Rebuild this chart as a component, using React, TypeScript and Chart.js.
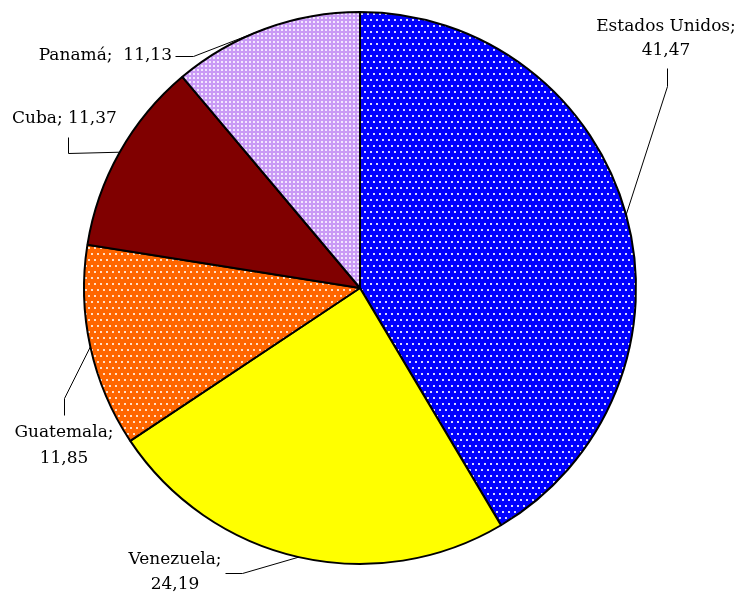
import React, { useEffect, useRef } from "react";
import { Chart, registerables } from "chart.js";

Chart.register(...registerables);

const categories = ["Estados Unidos", "Venezuela", "Guatemala", "Cuba", "Panamá"];
const values = [41.47, 24.19, 11.85, 11.37, 11.13];

const fmt = (v: number) => v.toFixed(2).replace(".", ",");

function makePattern(base: string, dot: string, period: number, size: number, stagger: boolean) {
  const c = document.createElement("canvas");
  c.width = period;
  c.height = stagger ? period * 2 : period;
  const ctx = c.getContext("2d")!;
  ctx.fillStyle = base;
  ctx.fillRect(0, 0, c.width, c.height);
  ctx.fillStyle = dot;
  ctx.fillRect(1, 1, size, size);
  if (stagger) {
    ctx.fillRect(1 + period / 2, 1 + period, size, size);
  }
  return ctx.createPattern(c, "repeat")!;
}

// label layout: lines, text anchor, alignment, leader polyline start points
const labelLayout = [
  { lines: (n: string, v: string) => [n + ";", v], x: 666, y: [27, 51], align: "center", leader: [[667, 68], [667, 86]] },
  { lines: (n: string, v: string) => [n + ";", v], x: 175, y: [560, 585], align: "center", leader: [[225, 573], [242, 573]] },
  { lines: (n: string, v: string) => [n + ";", v], x: 64, y: [433, 459], align: "center", leader: [[64, 415], [64, 398]] },
  { lines: (n: string, v: string) => [n + "; " + v], x: 12, y: [119], align: "left", leader: [[68, 137], [68, 153]] },
  { lines: (n: string, v: string) => [n + ";  " + v], x: 172, y: [56], align: "right", leader: [[175, 56], [193, 56]] },
];

const labelsPlugin = {
  id: "pieLabels",
  afterDraw(chart: any) {
    const ctx = chart.ctx;
    const meta = chart.getDatasetMeta(0);
    ctx.save();
    ctx.font = "17px 'DejaVu Serif', serif";
    ctx.fillStyle = "#000";
    ctx.textBaseline = "middle";
    meta.data.forEach((arc: any, i: number) => {
      const L = labelLayout[i];
      const lines = L.lines(categories[i], fmt(values[i]));
      ctx.textAlign = L.align;
      lines.forEach((t: string, j: number) => ctx.fillText(t, L.x, L.y[j]));
      const mid = (arc.startAngle + arc.endAngle) / 2;
      const ex = arc.x + Math.cos(mid) * arc.outerRadius;
      const ey = arc.y + Math.sin(mid) * arc.outerRadius;
      ctx.beginPath();
      ctx.strokeStyle = "#000";
      ctx.lineWidth = 1;
      ctx.moveTo(L.leader[0][0] + 0.5, L.leader[0][1] + 0.5);
      ctx.lineTo(L.leader[1][0] + 0.5, L.leader[1][1] + 0.5);
      ctx.lineTo(ex, ey);
      ctx.stroke();
    });
    ctx.restore();
  },
};

export default function App() {
  const ref = useRef<HTMLCanvasElement>(null);
  useEffect(() => {
    document.body.style.margin = "0";
    const fills = [
      makePattern("#0000ff", "#d8d8ff", 6, 2, true),
      "#ffff00",
      makePattern("#ff6600", "#ffe0c8", 6, 2, true),
      "#800000",
      makePattern("#c99af5", "#f3e6ff", 4, 2, false),
    ];
    const chart = new Chart(ref.current!, {
      type: "pie",
      data: {
        labels: categories,
        datasets: [
          {
            data: values,
            backgroundColor: fills as any,
            borderColor: "#000",
            borderWidth: 2,
            hoverOffset: 0,
          },
        ],
      },
      options: {
        responsive: false,
        animation: false,
        layout: { padding: { left: 83, right: 103, top: 11, bottom: 30 } },
        plugins: { legend: { display: false }, tooltip: { enabled: false } },
      },
      plugins: [labelsPlugin],
    });
    return () => chart.destroy();
  }, []);
  return <canvas ref={ref} width={740} height={595} style={{ display: "block" }} />;
}
